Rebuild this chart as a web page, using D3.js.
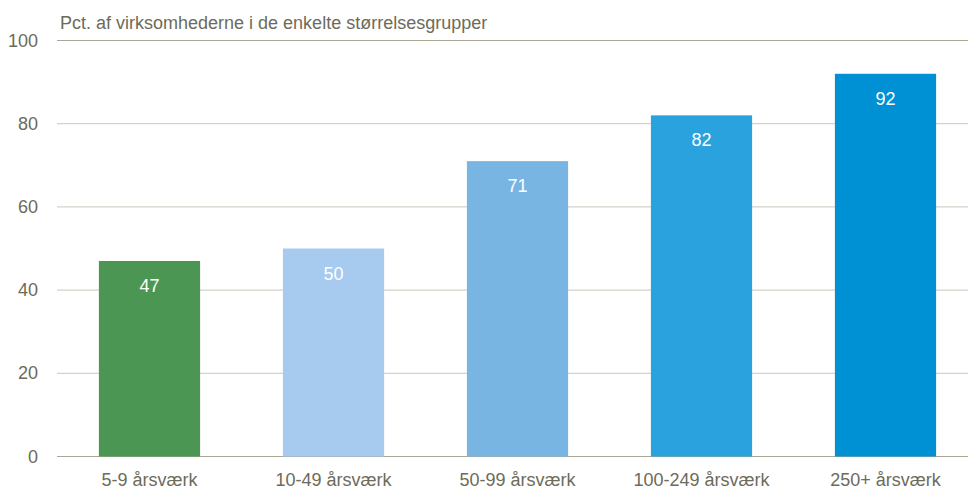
<!DOCTYPE html>
<html>
<head>
<meta charset="utf-8">
<script src="https://cdn.jsdelivr.net/npm/d3@7"></script>
<style>
  body { margin: 0; background: #fff; }
  text { font-family: "Liberation Sans Narrow", "Arial Narrow", "Liberation Sans", sans-serif; }
</style>
</head>
<body>
<svg id="chart" width="968" height="490"></svg>
<script>
// data
var categories = ["5-9 årsværk", "10-49 årsværk", "50-99 årsværk", "100-249 årsværk", "250+ årsværk"];
var values = [47, 50, 71, 82, 92];
var barColors = ["#4a9652", "#a6cbee", "#78b5e3", "#29a2dd", "#0091d5"];
var yTicks = [0, 20, 40, 60, 80, 100];
var yTitle = "Pct. af virksomhederne i de enkelte størrelsesgrupper";

var svg = d3.select("#chart");
var textColor = "#6d6b5a";

var x = d3.scaleBand()
    .domain(categories)
    .range([57.5, 977.5])
    .paddingInner(0.45)
    .paddingOuter(0.225);

var y = d3.scaleLinear()
    .domain([0, 100])
    .range([456.5, 40.5]);

// gridlines
svg.append("g")
    .selectAll("line")
    .data(yTicks)
    .enter()
    .append("line")
    .attr("x1", 57)
    .attr("x2", 968)
    .attr("y1", function(d) { return y(d); })
    .attr("y2", function(d) { return y(d); })
    .attr("stroke", function(d) { return d == 0 || d == 100 ? "#a9a795" : "#c9c8bc"; })
    .attr("stroke-width", 1);

// y tick labels
svg.append("g")
    .selectAll("text")
    .data(yTicks)
    .enter()
    .append("text")
    .attr("x", 38)
    .attr("y", function(d) { return y(d) + 6; })
    .attr("text-anchor", "end")
    .attr("font-size", 18)
    .attr("fill", textColor)
    .text(function(d) { return d; });

// title
svg.append("text")
    .attr("x", 60)
    .attr("y", 29)
    .attr("font-size", 18)
    .attr("fill", textColor)
    .text(yTitle);

// bars
var bars = svg.append("g")
    .selectAll("rect")
    .data(values)
    .enter()
    .append("rect")
    .attr("x", function(d, i) { return x(categories[i]); })
    .attr("y", function(d) { return y(d); })
    .attr("width", x.bandwidth())
    .attr("height", function(d) { return y(0) - y(d); })
    .attr("fill", function(d, i) { return barColors[i]; });

// value labels
svg.append("g")
    .selectAll("text")
    .data(values)
    .enter()
    .append("text")
    .attr("x", function(d, i) { return x(categories[i]) + x.bandwidth() / 2; })
    .attr("y", function(d) { return y(d) + 31; })
    .attr("text-anchor", "middle")
    .attr("font-size", 18)
    .attr("fill", "#fff")
    .text(function(d) { return d; });

// category labels
svg.append("g")
    .selectAll("text")
    .data(categories)
    .enter()
    .append("text")
    .attr("x", function(d) { return x(d) + x.bandwidth() / 2; })
    .attr("y", 486)
    .attr("text-anchor", "middle")
    .attr("font-size", 18)
    .attr("fill", textColor)
    .text(function(d) { return d; });
</script>
</body>
</html>
